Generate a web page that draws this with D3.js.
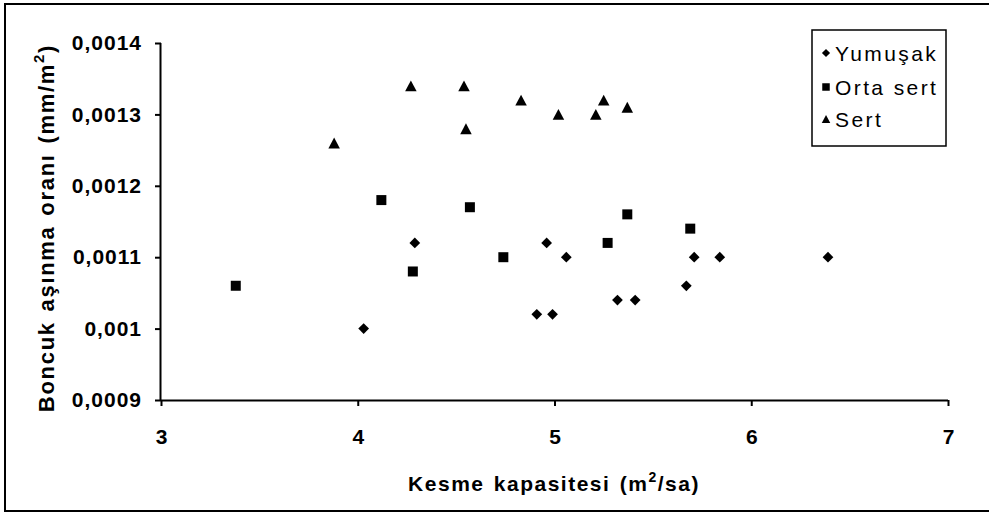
<!DOCTYPE html>
<html>
<head>
<meta charset="utf-8">
<script src="https://cdn.jsdelivr.net/npm/d3@7"></script>
<style>
  html, body { margin: 0; padding: 0; background: #fff; }
  svg { display: block; }
  text { font-family: "Liberation Sans", Arial, sans-serif; fill: #000; }
</style>
</head>
<body>
<svg id="chart" width="989" height="513"></svg>
<script>
// Cutting capacity (m²/sa) vs bead wear rate (mm/m²) by rock hardness
const yumusakX = [4.03, 4.29, 4.91, 4.96, 4.99, 5.06, 5.32, 5.41, 5.67, 5.71, 5.84, 6.39];
const yumusakY = [0.00100, 0.00112, 0.00102, 0.00112, 0.00102, 0.00110, 0.00104, 0.00104, 0.00106, 0.00110, 0.00110, 0.00110];

const ortaSertX = [3.38, 4.12, 4.28, 4.57, 4.74, 5.27, 5.37, 5.69];
const ortaSertY = [0.00106, 0.00118, 0.00108, 0.00117, 0.00110, 0.00112, 0.00116, 0.00114];

const sertX = [3.88, 4.27, 4.54, 4.55, 4.83, 5.02, 5.21, 5.25, 5.37];
const sertY = [0.00126, 0.00134, 0.00134, 0.00128, 0.00132, 0.00130, 0.00130, 0.00132, 0.00131];

const seriesNames = ["Yumuşak", "Orta sert", "Sert"];

const xTicks = [3, 4, 5, 6, 7];
const yTicks = [0.0009, 0.0010, 0.0011, 0.0012, 0.0013, 0.0014];
const yTickLabels = ["0,0009", "0,001", "0,0011", "0,0012", "0,0013", "0,0014"];

const svg = d3.select("#chart");
const W = 989;
const plot = { left: 161, right: 948, top: 43, bottom: 400 };

// Outer frame
svg.append("rect")
  .attr("x", 5).attr("y", 4)
  .attr("width", W + 10).attr("height", 507)
  .attr("fill", "none").attr("stroke", "#000").attr("stroke-width", 2);

const x = d3.scaleLinear().domain([3, 7]).range([plot.left, plot.right]);
const y = d3.scaleLinear().domain([0.0009, 0.0014]).range([plot.bottom, plot.top]);

// Axes
const xAxis = d3.axisBottom(x).tickValues(xTicks).tickSize(6).tickPadding(23)
  .tickFormat(d3.format("d"));
const yAxis = d3.axisLeft(y).tickValues(yTicks).tickSize(6).tickPadding(14)
  .tickFormat((d, i) => yTickLabels[i]);

const gx = svg.append("g").attr("transform", `translate(0,${plot.bottom})`).call(xAxis);
const gy = svg.append("g").attr("transform", `translate(${plot.left},0)`).call(yAxis);

[gx, gy].forEach(g => {
  g.select(".domain").attr("stroke", "#000").attr("stroke-width", 2);
  g.selectAll(".tick line").attr("stroke", "#000").attr("stroke-width", 2);
  g.selectAll(".tick text")
    .attr("font-family", "Liberation Sans, Arial, sans-serif")
    .attr("font-size", 21).attr("font-weight", "bold").attr("fill", "#000");
});
// Axis lines without end caps
gx.select(".domain").attr("d", `M${plot.left},0.5H${plot.right}`);
gy.select(".domain").attr("d", `M-0.5,${plot.top}V${plot.bottom}`);
gx.selectAll(".tick text").attr("dy", "0.71em");
gy.selectAll(".tick text").attr("letter-spacing", 1).attr("dx", 1);

// Axis titles
const xTitle = svg.append("text")
  .attr("x", 554).attr("y", 491)
  .attr("text-anchor", "middle")
  .attr("font-size", 21).attr("font-weight", "bold")
  .attr("letter-spacing", 1.5).attr("word-spacing", 2);
xTitle.append("tspan").text("Kesme kapasitesi (m");
xTitle.append("tspan").attr("font-size", 14).attr("dy", -9).text("2");
xTitle.append("tspan").attr("dy", 9).text("/sa)");

const yTitle = svg.append("text")
  .attr("transform", `translate(54,228) rotate(-90)`)
  .attr("text-anchor", "middle")
  .attr("font-size", 22).attr("font-weight", "bold")
  .attr("letter-spacing", 1.7).attr("word-spacing", 2);
yTitle.append("tspan").text("Boncuk aşınma oranı (mm/m");
yTitle.append("tspan").attr("font-size", 15).attr("dy", -10).text("2");
yTitle.append("tspan").attr("dy", 10).text(")");

// Marker shapes
const diamond = s => d3.symbol(d3.symbolSquare, s * s)();
const square = s => d3.symbol(d3.symbolSquare, s * s)();
const triangle = s => {
  const h = s * 0.95;
  return `M0,${-h / 2}L${s / 2},${h / 2}L${-s / 2},${h / 2}Z`;
};

const series = [
  { name: seriesNames[0], xs: yumusakX, ys: yumusakY, path: diamond, size: 7.6, rot: 45, legSize: 5.8 },
  { name: seriesNames[1], xs: ortaSertX, ys: ortaSertY, path: square, size: 10, rot: 0, legSize: 7.5 },
  { name: seriesNames[2], xs: sertX, ys: sertY, path: triangle, size: 11.5, rot: 0, legSize: 8.5 }
];

series.forEach(s => {
  svg.append("g").selectAll("path")
    .data(s.xs.map((v, i) => [v, s.ys[i]]))
    .join("path")
    .attr("d", s.path(s.size))
    .attr("transform", d => `translate(${x(d[0])},${y(d[1])}) rotate(${s.rot})`)
    .attr("fill", "#000");
});

// Legend
const leg = svg.append("g");
leg.append("rect")
  .attr("x", 812).attr("y", 30).attr("width", 134).attr("height", 116)
  .attr("fill", "#fff").attr("stroke", "#000").attr("stroke-width", 1.5);
const legY = [53, 87, 119];
series.forEach((s, i) => {
  const cy = legY[i];
  leg.append("path")
    .attr("d", s.path(s.legSize))
    .attr("transform", `translate(826,${cy}) rotate(${s.rot})`)
    .attr("fill", "#000");
  leg.append("text")
    .attr("x", 835).attr("y", cy).attr("dy", "0.36em")
    .attr("font-size", 21).attr("letter-spacing", 2.4)
    .text(s.name);
});
</script>
</body>
</html>
